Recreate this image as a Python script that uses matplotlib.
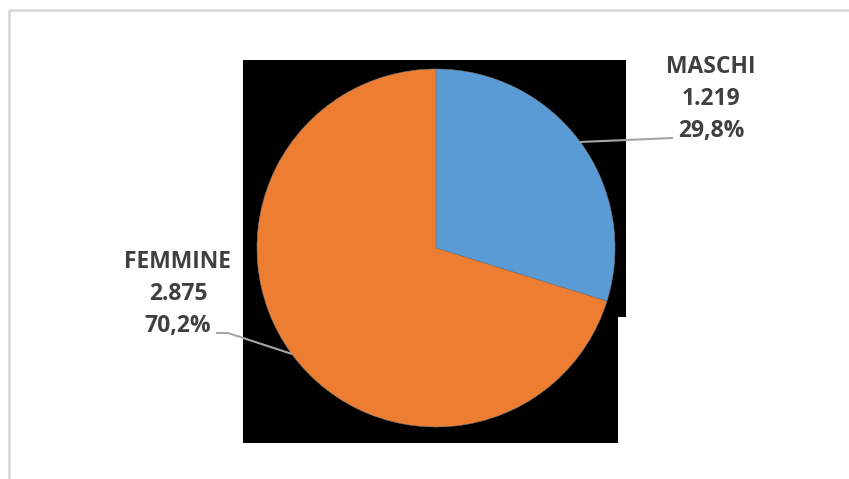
import matplotlib.pyplot as plt
from matplotlib.patches import Rectangle

labels = ["MASCHI", "FEMMINE"]
counts = ["1.219", "2.875"]
shares = [29.8, 70.2]
colors = ["#5B9BD5", "#ED7D31"]

W, H = 849, 479
fig = plt.figure(figsize=(W / 100, H / 100), dpi=100)
ax = fig.add_axes([0, 0, 1, 1])

def Y(y):
    return H - y

# black background shapes
ax.add_patch(Rectangle((243, Y(443)), 618 - 243, 443 - 60, color="black", lw=0))
ax.add_patch(Rectangle((618, Y(317)), 626 - 618, 317 - 60, color="black", lw=0))

ax.pie(shares, colors=colors, startangle=90, counterclock=False,
       center=(436, Y(248)), radius=179, frame=True,
       wedgeprops=dict(edgecolor="#7a7a7a", linewidth=0.4))
ax.set_xlim(0, W)
ax.set_ylim(0, H)
ax.set_aspect("auto")
ax.axis("off")

# chart border (light gray, top and left only visible)
ax.plot([9, 9], [Y(479), Y(10)], color="#D9D9D9", lw=2, solid_capstyle="butt")
ax.plot([9, 849], [Y(10), Y(10)], color="#D9D9D9", lw=2, solid_capstyle="butt")

# leader lines
ax.plot([580, 673], [Y(142), Y(138)], color="#A6A6A6", lw=1.5, solid_capstyle="butt")
ax.plot([216, 228, 292], [Y(333), Y(333), Y(354)], color="#A6A6A6", lw=1.5, solid_capstyle="butt")

tkw = dict(ha="center", va="center", fontsize=16.5, fontweight="bold", color="#404040", family="Open Sans")
for i, (x, ys) in enumerate([(711, (67, 99, 131)), (178, (262, 294, 326))]):
    ax.text(x, Y(ys[0]), labels[i], **tkw)
    ax.text(x, Y(ys[1]), counts[i], **tkw)
    ax.text(x, Y(ys[2]), f"{shares[i]:.1f}%".replace(".", ","), **tkw)

fig.savefig("out.png", dpi=100, facecolor="white")
